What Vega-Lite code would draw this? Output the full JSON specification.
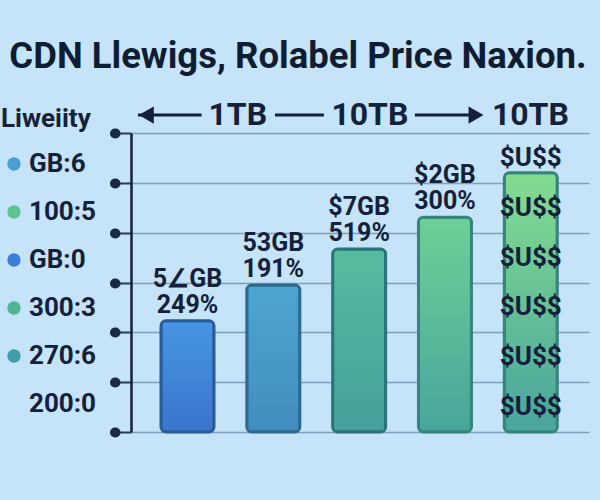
{
  "$schema": "https://vega.github.io/schema/vega-lite/v6.json",
  "width": 458,
  "height": 299,
  "autosize": {"type": "none"},
  "padding": {"left": 131, "top": 133, "right": 11, "bottom": 68},
  "background": "#c5e3f9",
  "config": {"view": {"stroke": null}, "font": "Roboto"},
  "title": {
    "text": "CDN Llewigs, Rolabel Price Naxion.",
    "font": "Roboto",
    "fontSize": 36.5,
    "fontWeight": "bold",
    "color": "#0f1d33",
    "anchor": "middle",
    "frame": "group",
    "baseline": "alphabetic",
    "dx": -62,
    "offset": -5
  },
  "datasets": {
    "bars": [
      {"idx": 0, "label": "2TB", "value": 2.23, "note": "5∠GB\n249%"},
      {"idx": 1, "label": "1TB", "value": 2.95, "note": "53GB\n191%"},
      {"idx": 2, "label": "1TB", "value": 3.67, "note": "$7GB\n519%"},
      {"idx": 3, "label": "1TB", "value": 4.31, "note": "$2GB\n300%"},
      {"idx": 4, "label": "1TB", "value": 5.2, "note": ""}
    ],
    "usd": [
      {"idx": 4, "y": 0.5, "t": "$U$$"},
      {"idx": 4, "y": 1.5, "t": "$U$$"},
      {"idx": 4, "y": 2.5, "t": "$U$$"},
      {"idx": 4, "y": 3.5, "t": "$U$$"},
      {"idx": 4, "y": 4.5, "t": "$U$$"},
      {"idx": 4, "y": 5.5, "t": "$U$$"}
    ],
    "arrows": [
      {"x1": -0.577, "x2": 0.164, "y": 6.36},
      {"x1": 1.019, "x2": 1.589, "y": 6.36},
      {"x1": 2.65, "x2": 3.357, "y": 6.36}
    ],
    "heads": [
      {"x": -0.48, "y": 6.36, "dir": "left"},
      {"x": 3.362, "y": 6.36, "dir": "right"}
    ],
    "ann": [
      {"x": 0.586, "y": 6.36, "t": "1TB"},
      {"x": 2.125, "y": 6.36, "t": "10TB"},
      {"x": 3.995, "y": 6.36, "t": "10TB"}
    ],
    "legend": [
      {"leg": "GB:6"},
      {"leg": "100:5"},
      {"leg": "GB:0"},
      {"leg": "300:3"},
      {"leg": "270:6"},
      {"leg": "200:0"}
    ]
  },
  "resolve": {"axis": {"y": "independent"}},
  "layer": [
    {
      "data": {"name": "bars"},
      "mark": {"type": "bar", "orient": "vertical", "width": 53, "cornerRadius": 5, "strokeWidth": 3},
      "encoding": {
        "x": {
          "field": "idx", "type": "quantitative",
          "scale": {"domain": [-0.6, 4.62], "nice": false, "zero": false},
          "axis": {
            "values": [0, 1, 2, 3, 4],
            "labelExpr": "['2TB','1TB','1TB','1TB','1TB'][datum.value]",
            "title": null, "grid": false, "ticks": false,
            "domainColor": "#14213a", "domainWidth": 3,
            "labelFont": "Roboto", "labelFontSize": 23, "labelFontWeight": "bold",
            "labelColor": "#14213a", "labelPadding": 8
          }
        },
        "y": {
          "field": "value", "type": "quantitative",
          "scale": {"domain": [0, 6], "nice": false, "zero": false},
          "axis": {
            "values": [0, 1, 2, 3, 4, 5, 6],
            "title": null, "labels": false,
            "grid": true, "gridColor": "#7f9fbd", "gridWidth": 1.5,
            "domainColor": "#14213a", "domainWidth": 2.5,
            "ticks": true, "tickSize": 14, "tickWidth": 2, "tickColor": "#2a3a55"
          }
        },
        "color": {
          "condition": [
            {"test": "datum.idx == 0", "value": {"gradient": "linear", "x1": 0, "y1": 0, "x2": 0, "y2": 1, "stops": [{"offset": 0, "color": "#4796e2"}, {"offset": 1, "color": "#3a74cc"}]}},
            {"test": "datum.idx == 1", "value": {"gradient": "linear", "x1": 0, "y1": 0, "x2": 0, "y2": 1, "stops": [{"offset": 0, "color": "#4ea5d0"}, {"offset": 1, "color": "#428dbd"}]}},
            {"test": "datum.idx == 2", "value": {"gradient": "linear", "x1": 0, "y1": 0, "x2": 0, "y2": 1, "stops": [{"offset": 0, "color": "#57bc9f"}, {"offset": 1, "color": "#44a09c"}]}},
            {"test": "datum.idx == 3", "value": {"gradient": "linear", "x1": 0, "y1": 0, "x2": 0, "y2": 1, "stops": [{"offset": 0, "color": "#6dd096"}, {"offset": 1, "color": "#47a69c"}]}}
          ],
          "value": {"gradient": "linear", "x1": 0, "y1": 0, "x2": 0, "y2": 1, "stops": [{"offset": 0, "color": "#84dc90"}, {"offset": 1, "color": "#49a59e"}]}
        },
        "stroke": {
          "condition": [
            {"test": "datum.idx == 0", "value": "#2a5c9c"},
            {"test": "datum.idx == 1", "value": "#2c6a90"},
            {"test": "datum.idx == 2", "value": "#2c7478"}
          ],
          "value": "#34857c"
        }
      }
    },
    {
      "data": {"name": "bars"},
      "mark": {"type": "text", "baseline": "bottom", "align": "center", "dy": -29, "lineBreak": "\n", "lineHeight": 26, "fontSize": 25, "fontWeight": "bold", "font": "Roboto", "color": "#14213a"},
      "encoding": {
        "x": {"field": "idx", "type": "quantitative", "scale": {"domain": [-0.6, 4.62], "nice": false, "zero": false}, "axis": null},
        "y": {"field": "value", "type": "quantitative", "scale": {"domain": [0, 6], "nice": false, "zero": false}, "axis": null},
        "text": {"field": "note"}
      }
    },
    {
      "data": {"name": "usd"},
      "mark": {"type": "text", "baseline": "middle", "align": "center", "fontSize": 26, "fontWeight": "bold", "font": "Roboto", "color": "#14213a"},
      "encoding": {
        "x": {"field": "idx", "type": "quantitative", "scale": {"domain": [-0.6, 4.62], "nice": false, "zero": false}, "axis": null},
        "y": {
          "field": "y", "type": "quantitative",
          "scale": {"domain": [0, 6], "nice": false, "zero": false},
          "axis": {
            "orient": "left", "offset": 16,
            "values": [0, 1, 2, 3, 4, 5, 6],
            "title": null, "labels": false, "grid": false, "domain": false,
            "ticks": true, "tickSize": 0.5, "tickWidth": 10, "tickCap": "round", "tickColor": "#1b2a44"
          }
        },
        "text": {"field": "t"}
      }
    },
    {
      "data": {"name": "arrows"},
      "mark": {"type": "rule", "strokeWidth": 3, "color": "#14213a"},
      "encoding": {
        "x": {"field": "x1", "type": "quantitative", "scale": {"domain": [-0.6, 4.62], "nice": false, "zero": false}, "axis": null},
        "x2": {"field": "x2"},
        "y": {"field": "y", "type": "quantitative", "scale": {"domain": [0, 6], "nice": false, "zero": false}, "axis": null}
      }
    },
    {
      "data": {"name": "heads"},
      "mark": {"type": "point", "filled": true, "opacity": 1, "size": 300, "color": "#14213a"},
      "encoding": {
        "x": {"field": "x", "type": "quantitative", "scale": {"domain": [-0.6, 4.62], "nice": false, "zero": false}, "axis": null},
        "y": {"field": "y", "type": "quantitative", "scale": {"domain": [0, 6], "nice": false, "zero": false}, "axis": null},
        "shape": {"field": "dir", "type": "nominal", "scale": {"domain": ["left", "right"], "range": ["triangle-left", "triangle-right"]}, "legend": null}
      }
    },
    {
      "data": {"name": "ann"},
      "mark": {"type": "text", "baseline": "middle", "align": "center", "fontSize": 32, "fontWeight": "bold", "font": "Roboto", "color": "#14213a"},
      "encoding": {
        "x": {"field": "x", "type": "quantitative", "scale": {"domain": [-0.6, 4.62], "nice": false, "zero": false}, "axis": null},
        "y": {"field": "y", "type": "quantitative", "scale": {"domain": [0, 6], "nice": false, "zero": false}, "axis": null},
        "text": {"field": "t"}
      }
    },
    {
      "data": {"name": "legend"},
      "mark": {"type": "point", "filled": true, "opacity": 0},
      "encoding": {
        "color": {
          "field": "leg", "type": "nominal",
          "scale": {"domain": ["GB:6", "100:5", "GB:0", "300:3", "270:6", "200:0"], "range": ["#4a9fd2", "#5cc48e", "#3c7fd8", "#4fb593", "#3f9ea8", "transparent"]},
          "legend": {
            "orient": "none", "legendX": -130, "legendY": -27, "padding": 0,
            "title": "Liweiity", "titleFont": "Roboto", "titleFontSize": 26, "titleFontWeight": "bold", "titleColor": "#14213a", "titlePadding": 19,
            "labelFont": "Roboto", "labelFontSize": 26, "labelFontWeight": "bold", "labelColor": "#14213a", "labelOffset": 2,
            "symbolType": "circle", "symbolSize": 180, "symbolStrokeWidth": 0, "symbolOpacity": 1,
            "rowPadding": 22
          }
        }
      }
    }
  ]
}
